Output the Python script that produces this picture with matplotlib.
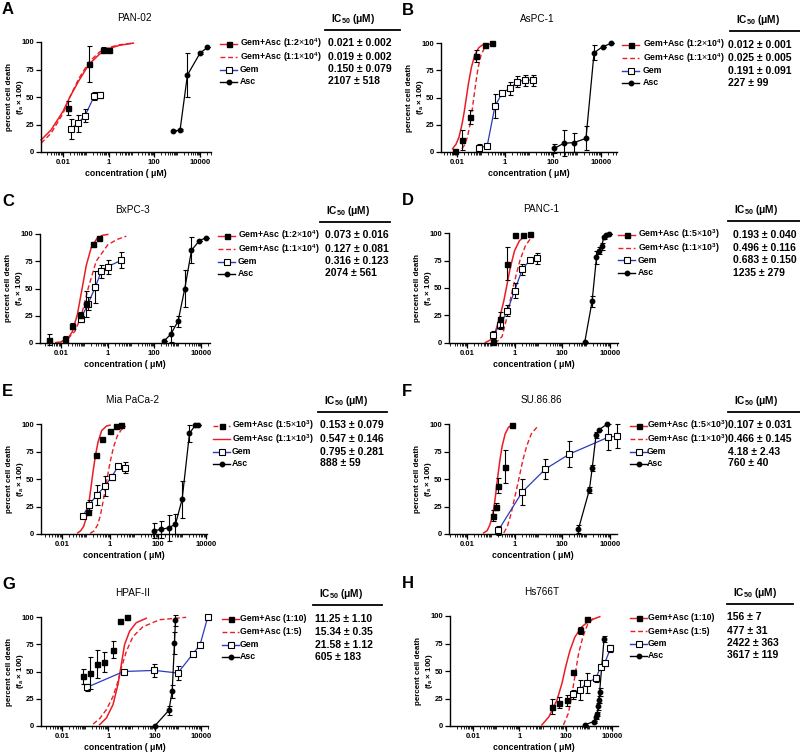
import numpy as np
import matplotlib
matplotlib.use('Agg')
import matplotlib.pyplot as plt
from matplotlib.lines import Line2D
from matplotlib.ticker import FixedLocator, LogLocator, NullFormatter, FixedFormatter

plt.rcParams['font.family'] = ['Liberation Sans', 'DejaVu Sans']
plt.rcParams['mathtext.fontset'] = 'custom'
plt.rcParams['mathtext.rm'] = 'Liberation Sans'
plt.rcParams['mathtext.bf'] = 'Liberation Sans:bold'
plt.rcParams['mathtext.it'] = 'Liberation Sans:italic'

# ---------------- data ----------------
# A  PAN-02
A_combo_x = [0.017, 0.138, 0.55, 1.0]
A_combo_y = [40, 80, 93, 93]
A_combo_err = [6, 16.5, 2, 1]
A_fit1_x = [0.0011, 0.003, 0.01, 0.02, 0.05, 0.14, 0.4, 1, 3, 12]
A_fit1_y = [11, 20, 37, 50, 65, 80, 89, 94, 97, 99]
A_fit2_x = [0.0011, 0.003, 0.01, 0.02, 0.05, 0.14, 0.4, 1, 3, 12]
A_fit2_y = [8, 17, 35, 50, 67, 82, 91, 95, 97.5, 99]
A_gem_x = [0.022, 0.044, 0.092, 0.235, 0.415]
A_gem_y = [21, 26, 33, 51, 52]
A_gem_err = [9, 8, 6, 4, 3]
A_asc_x = [676, 1330, 2790, 10000, 21000]
A_asc_y = [19, 20, 70, 90, 95]
A_asc_err = [0, 1, 20, 1, 0]

# B  AsPC-1
B_combo_x = [0.008, 0.0162, 0.034, 0.06, 0.15, 0.30]
B_combo_y = [1.2, 11, 32, 88, 98, 99.7]
B_combo_err = [0, 9, 6.5, 5.5, 1, 0]
B_fit1_x = [0.0065, 0.009, 0.012, 0.016, 0.02, 0.0245, 0.03, 0.04, 0.055, 0.08, 0.11, 0.15]
B_fit1_y = [3, 7, 13.5, 25, 37, 50, 63, 78, 89, 95.6, 98, 99]
B_fit2_x = [0.016, 0.02, 0.027, 0.035, 0.043, 0.05, 0.06, 0.075, 0.1, 0.14, 0.2, 0.3]
B_fit2_y = [3, 6, 13.6, 25.5, 39, 50, 63, 77, 89, 95.6, 98.5, 99.5]
B_gem_x = [0.084, 0.18, 0.38, 0.77, 1.6, 3.3, 6.5, 14]
B_gem_y = [4, 5.5, 42, 54.4, 58.4, 64.5, 66, 66]
B_gem_err = [3, 2, 11, 2, 6, 5, 5, 5]
B_asc_x = [114, 280, 740, 2350, 5100, 11500, 27000]
B_asc_y = [3.4, 8, 8.6, 12.5, 91, 96.6, 99.7]
B_asc_err = [4, 12, 9, 11, 7, 0, 0]

# C  BxPC-3
C_combo_x = [0.0031, 0.015, 0.031, 0.063, 0.114, 0.234, 0.42]
C_combo_y = [3, 4, 15.5, 25.6, 36, 91, 96]
C_combo_err = [5, 2, 3, 3, 12, 1, 0]
C_fit1_x = [0.006, 0.01, 0.02, 0.03, 0.05, 0.08, 0.12, 0.2, 0.35, 0.6, 1.0]
C_fit1_y = [0.4, 1, 4.5, 10, 26, 50, 71, 88, 96, 98.8, 99.6]
C_fit2_x = [0.01, 0.02, 0.04, 0.074, 0.145, 0.32, 1.0, 2.5, 6.3]
C_fit2_y = [1, 4, 11, 25, 50, 75, 90, 95, 98]
C_gem_x = [0.07, 0.144, 0.296, 0.535, 1.0, 3.86]
C_gem_y = [22, 36, 51.5, 66, 70, 76]
C_gem_err = [3, 6, 15, 6, 6.5, 7.5]
C_asc_x = [250, 500, 1030, 2000, 3870, 8200, 15800]
C_asc_y = [1.5, 8, 20, 50, 85, 93.6, 96.6]
C_asc_err = [0, 7.5, 5, 17, 12, 0, 0]

# D  PANC-1
D_combo_x = [0.123, 0.248, 0.5, 1.0, 2.2, 4.3]
D_combo_y = [0.5, 21.5, 72, 98, 98, 99]
D_combo_err = [0, 7, 15, 0, 0, 0]
D_fit1_x = [0.06, 0.1, 0.15, 0.25, 0.35, 0.45, 0.65, 1.0, 1.6, 2.6]
D_fit1_y = [0.5, 3, 9, 25, 38, 50, 68, 84, 93, 97]
D_fit2_x = [0.14, 0.2, 0.3, 0.5, 0.7, 0.85, 1.2, 1.67, 2.8, 5.0]
D_fit2_y = [0.5, 2, 6, 25, 42, 50, 63, 75, 88, 96]
D_gem_x = [0.123, 0.248, 0.5, 1.0, 2.1, 4.5, 8.5]
D_gem_y = [7.3, 16.4, 29.4, 47.6, 67, 75.5, 77]
D_gem_err = [4, 3.5, 5, 7, 5, 1, 5]
D_asc_x = [890, 1800, 2750, 3560, 4470, 5600, 7200, 9300]
D_asc_y = [1.2, 38, 78, 84, 88, 96, 98, 99]
D_asc_err = [0, 5, 6, 3, 3, 1, 0, 0]

# E  Mia PaCa-2
E_combo_x = [0.125, 0.25, 0.475, 0.96, 1.82, 3.0]
E_combo_y = [20, 72, 86, 94, 98, 99]
E_combo_err = [0, 0, 0, 0, 0, 0]
E_fit1_x = [0.045, 0.06, 0.08, 0.1, 0.13, 0.16, 0.2, 0.25, 0.32, 0.45, 0.7, 1.0]
E_fit1_y = [1, 3, 7, 14, 27, 42, 58, 72, 84, 94, 98, 99]
E_fit2_x = [0.15, 0.22, 0.3, 0.4, 0.55, 0.75, 1.0, 1.4, 2.0, 3.0, 4.5]
E_fit2_y = [0.5, 3, 8, 17, 33, 50, 65, 79, 89, 95, 98]
E_gem_x = [0.075, 0.133, 0.277, 0.615, 1.17, 2.2, 4.2]
E_gem_y = [16.6, 26.3, 35.3, 43.5, 52, 61.6, 60.4]
E_gem_err = [1, 4.5, 9, 9, 3, 2, 5]
E_asc_x = [68, 136, 285, 535, 1010, 2050, 3600, 4700]
E_asc_y = [3, 4.2, 5.7, 9, 31.4, 91.5, 99, 99]
E_asc_err = [7, 8, 12, 9, 17, 8, 0, 0]

# F  SU.86.86
F_combo_x = [0.122, 0.169, 0.198, 0.41, 0.78]
F_combo_y = [16.7, 25, 44, 61, 99]
F_combo_err = [5, 3, 7, 15, 0]
F_fit1_x = [0.05, 0.07, 0.09, 0.12, 0.15, 0.19, 0.24, 0.3, 0.4, 0.55, 0.75]
F_fit1_y = [1, 3, 8, 17, 31, 50, 67, 80, 91, 97, 99]
F_fit2_x = [0.35, 0.5, 0.7, 1.0, 1.5, 2.2, 3.2, 5.0, 8.5]
F_fit2_y = [1, 7, 18, 33, 50, 67, 80, 91, 97]
F_gem_x = [0.206, 2.05, 19.3, 200, 8500, 19000]
F_gem_y = [3.3, 38, 59, 72.7, 88, 89]
F_gem_err = [4, 12, 9, 12, 12, 11]
F_asc_x = [475, 1360, 1800, 2600, 3550, 7700]
F_asc_y = [4.5, 40, 60, 90, 95, 100]
F_asc_err = [4, 3, 3, 3, 0, 0]

# G  HPAF-II
G_combo_x = [0.081, 0.168, 0.336, 0.63, 1.59, 3.3, 6.6]
G_combo_y = [45.6, 48.6, 57, 59, 70, 96, 99.7]
G_combo_err = [7, 15, 13, 9, 8, 0, 0]
G_fit1_x = [0.42, 0.82, 1.59, 2.6, 3.6, 5.0, 8.3, 16, 43]
G_fit1_y = [1.2, 7.3, 19.6, 38, 56, 74.6, 87, 94.8, 98.8]
G_fit2_x = [0.22, 0.42, 0.82, 1.59, 2.6, 3.6, 6.0, 11.5, 31, 162, 2280]
G_fit2_y = [1.8, 6.7, 15, 27, 41, 53, 68.5, 82, 91, 97.5, 99.7]
G_gem_x = [0.12, 4.6, 98, 1000, 4400, 9100, 19500]
G_gem_y = [35.5, 50, 51, 48.6, 66, 74.6, 100]
G_gem_err = [3, 0, 6, 6, 1, 1, 0]
G_asc_x = [100, 410, 570, 716, 790]
G_asc_y = [0, 14.4, 31.8, 76.5, 97]
G_asc_err = [0, 4, 6, 10, 5]

# H  Hs766T
H_combo_x = [26, 53, 111, 211, 400, 835]
H_combo_y = [17.6, 21, 23.6, 49, 87, 97]
H_combo_err = [6.5, 5, 5, 0, 3, 0]
H_fit1_x = [9.4, 19, 42, 69, 100, 154, 250, 480, 1050, 2950]
H_fit1_y = [1, 8.5, 23.6, 38.8, 54, 69, 81, 90, 95.8, 99.4]
H_fit2_x = [80, 130, 190, 260, 360, 550, 890, 1580]
H_fit2_y = [1, 11.5, 29.7, 48, 66, 81, 92.7, 97.9]
H_gem_x = [211, 400, 835, 2000, 3230, 4800, 8500]
H_gem_y = [29, 32.7, 39.4, 43.3, 54, 57, 70.6]
H_gem_err = [4, 9, 9, 3.5, 1, 2, 3]
H_asc_x = [650, 1600, 2000, 2300, 2500, 2700, 2900, 4500]
H_asc_y = [1, 4, 8, 11, 18, 24, 31, 79]
H_asc_err = [0, 1, 2, 2, 3, 3, 4, 3]

titles = ['PAN-02', 'AsPC-1', 'BxPC-3', 'PANC-1', 'Mia PaCa-2', 'SU.86.86', 'HPAF-II', 'Hs766T']
letters = ['A', 'B', 'C', 'D', 'E', 'F', 'G', 'H']
ratio_labels = [
  [r'(1:2$\times$10$^{\mathbf{4}}$)', r'(1:1$\times$10$^{\mathbf{4}}$)']] * 3 + \
  [[r'(1:5$\times$10$^{\mathbf{3}}$)', r'(1:1$\times$10$^{\mathbf{3}}$)']] * 3 + \
  [['(1:10)', '(1:5)']] * 2
ic50_text = [
  ['0.021 ± 0.002', '0.019 ± 0.002', '0.150 ± 0.079', '2107 ± 518'],
  ['0.012 ± 0.001', '0.025 ± 0.005', '0.191 ± 0.091', '227 ± 99'],
  ['0.073 ± 0.016', '0.127 ± 0.081', '0.316 ± 0.123', '2074 ± 561'],
  ['0.193 ± 0.040', '0.496 ± 0.116', '0.683 ± 0.150', '1235 ± 279'],
  ['0.153 ± 0.079', '0.547 ± 0.146', '0.795 ± 0.281', '888 ± 59'],
  ['0.107 ± 0.031', '0.466 ± 0.145', '4.18 ± 2.43', '760 ± 40'],
  ['11.25 ± 1.10', '15.34 ± 0.35', '21.58 ± 1.12', '605 ± 183'],
  ['156 ± 7', '477 ± 31', '2422 ± 363', '3617 ± 119'],
]

# ---------------- layout (pixels) ----------------
W, H = 800, 754
# left, top, right, bottom of each axes
rects = [(41, 42, 211, 152), (441, 43, 617, 152),
         (40, 234, 210, 343), (449, 233, 618, 343),
         (41, 424, 207, 534), (449, 424, 617, 534),
         (41, 617, 208, 726), (450, 616, 618, 726)]
xlims = [(1.09e-3, 3.0e4), (2.15e-3, 4.6e4), (1.26e-3, 2.4e4), (1.76e-3, 2.2e4),
         (1.33e-3, 1.1e4), (1.76e-3, 1.97e4), (1.24e-3, 2.0e4), (1.02e-3, 1.8e4)]
# legend handle start, legend text x, value x, header line start, end
leg_pos = [(220, 240, 328, 325, 400), (622, 643, 728, 730, 800),
           (218, 238, 325, 320, 390), (618, 638, 733, 728, 800),
           (213, 232, 320, 318, 387), (630, 647, 728, 728, 800),
           (222, 240, 315, 313, 382), (630, 648, 727, 727, 793)]
row_off = [1.5, 15, 27.5, 39.5]

red = '#ec1c24'
blue = '#2b3bbd'
dash = (0, (3.5, 2))

def fx(x): return x / W
def fy(y): return 1 - y / H

fig = plt.figure(figsize=(W / 100, H / 100), dpi=100)
fig.patch.set_facecolor('white')

panels = []
for L in letters:
  g = globals()
  panels.append([g[L + '_' + k] for k in ['combo_x', 'combo_y', 'combo_err', 'fit1_x', 'fit1_y',
                                          'fit2_x', 'fit2_y', 'gem_x', 'gem_y', 'gem_err',
                                          'asc_x', 'asc_y', 'asc_err']])

for i, L in enumerate(letters):
  left, top, right, bottom = rects[i]
  ax = fig.add_axes([fx(left), fy(bottom), (right - left) / W, (bottom - top) / H])
  cx, cy, ce, f1x, f1y, f2x, f2y, gx, gy, ge, ax_x, ax_y, ax_e = panels[i]

  # fitted combination curves
  ax.plot(f2x, f2y, color=red, lw=1.0, ls=dash, clip_on=False, zorder=2)
  ax.plot(f1x, f1y, color=red, lw=1.1, ls='-', clip_on=False, zorder=2)
  # Gem
  ax.plot(gx, gy, color=blue, lw=0.9, clip_on=False, zorder=3)
  ax.errorbar(gx, gy, yerr=ge, fmt='s', ms=4.3, mfc='white', mec='k', mew=0.8,
              ecolor='k', elinewidth=0.8, capsize=1.8, capthick=0.8, clip_on=False, zorder=4)
  # Asc
  ax.plot(ax_x, ax_y, color='k', lw=0.9, clip_on=False, zorder=3)
  ax.errorbar(ax_x, ax_y, yerr=ax_e, fmt='o', ms=3.2, mfc='k', mec='k',
              ecolor='k', elinewidth=0.8, capsize=1.8, capthick=0.8, clip_on=False, zorder=4)
  # Gem+Asc
  ax.errorbar(cx, cy, yerr=ce, fmt='s', ms=3.6, mfc='k', mec='k',
              ecolor='k', elinewidth=0.8, capsize=1.8, capthick=0.8, clip_on=False, zorder=5)

  ax.set_xscale('log')
  ax.set_xlim(*xlims[i])
  ax.set_ylim(0, 100)
  ax.set_yticks([0, 25, 50, 75, 100])
  ax.xaxis.set_major_locator(FixedLocator([0.01, 1, 100, 10000]))
  ax.xaxis.set_major_formatter(FixedFormatter(['0.01', '1', '100', '10000']))
  ax.xaxis.set_minor_locator(LogLocator(base=10, subs=np.arange(1, 10), numticks=20))
  ax.xaxis.set_minor_formatter(NullFormatter())
  for sp in ['top', 'right']:
    ax.spines[sp].set_visible(False)
  for sp in ['left', 'bottom']:
    ax.spines[sp].set_linewidth(1.0)
  ax.tick_params(axis='both', which='major', direction='out', length=3.5, width=0.9, labelsize=5.5, pad=1.5)
  ax.tick_params(axis='x', which='minor', direction='out', length=2, width=0.6)
  for lab in ax.get_xticklabels() + ax.get_yticklabels():
    lab.set_fontweight('bold')

  cxp = (left + right) / 2
  cyp = (top + bottom) / 2
  fig.text(fx(cxp), fy(bottom + 21), 'concentration ( μM)', ha='center', va='center',
           fontsize=6.3, fontweight='bold')
  fig.text(fx(left - 25), fy(cyp), 'percent cell death\n(f$_\\mathbf{a}$ × 100)', rotation=90,
           ha='center', va='center', fontsize=5.8, fontweight='bold', linespacing=1.35,
           multialignment='center')
  fig.text(fx(cxp + 8), fy(top - 24), titles[i], ha='center', va='center', fontsize=7.2)
  fig.text(fx(2 if left < 400 else 402), fy(top - 40), L, ha='left', va='top',
           fontsize=12, fontweight='bold')

  # legend + IC50 table
  hx, tx, vx, lx0, lx1 = leg_pos[i]
  labels = ['Gem+Asc ' + ratio_labels[i][0], 'Gem+Asc ' + ratio_labels[i][1], 'Gem', 'Asc']
  ls1, ls2 = ('-', dash) if L != 'E' else (dash, '-')
  styles = [
    dict(color=red, ls=ls1, marker='s', ms=3.6, mfc='k', mec='k'),
    dict(color=red, ls=ls2, marker=None),
    dict(color=blue, ls='-', marker='s', ms=4.0, mfc='white', mec='k', mew=0.8),
    dict(color='k', ls='-', marker='o', ms=3.2, mfc='k', mec='k'),
  ]
  for r in range(4):
    yy = top + row_off[r]
    ln = Line2D([fx(hx), fx(hx + 8.5), fx(hx + 17)], [fy(yy)] * 3, lw=1.0,
                markevery=[1], transform=fig.transFigure, **styles[r])
    fig.add_artist(ln)
    fig.text(fx(tx), fy(yy), labels[r], ha='left', va='center', fontsize=6.3, fontweight='bold')
    fig.text(fx(vx), fy(yy), ic50_text[i][r], ha='left', va='center', fontsize=7.5, fontweight='bold')
  fig.text(fx(lx0 + 6), fy(top - 23), r'IC$_{\mathbf{50}}$ (μM)', ha='left', va='center',
           fontsize=7.3, fontweight='bold')
  fig.add_artist(Line2D([fx(lx0), fx(lx1)], [fy(top - 12.5)] * 2, lw=1.3, color='k',
                        transform=fig.transFigure))

fig.savefig('out.png', dpi=100, facecolor='white')
